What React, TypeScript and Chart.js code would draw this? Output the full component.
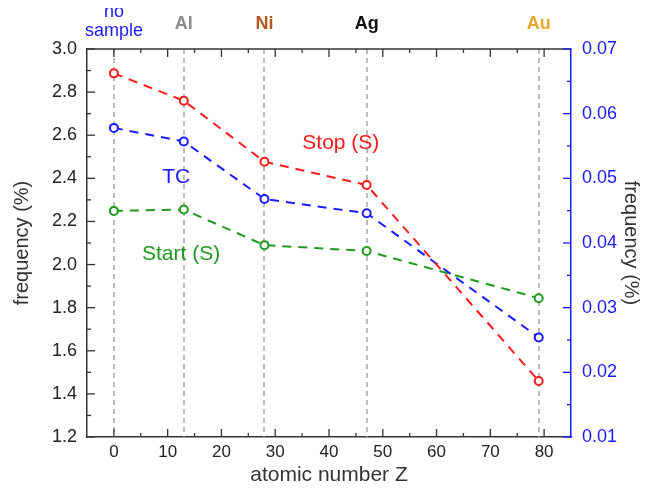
import React, { useEffect, useRef } from "react";
import { Chart, registerables } from "chart.js";
Chart.register(...registerables);

const atomicNumbers = [0, 13, 28, 47, 79];
const sampleNames = ["no sample", "Al", "Ni", "Ag", "Au"];
const sampleColors = ["#1a1aff", "#8c8c8c", "#b55a1e", "#111111", "#e8a62a"];
const stopValues = [2.887, 2.76, 2.477, 2.369, 1.46];
const startValues = [2.249, 2.255, 2.09, 2.063, 1.844];
const tcValues = [0.0578, 0.0557, 0.0468, 0.0446, 0.0254];

const xMajorTicks = [0, 10, 20, 30, 40, 50, 60, 70, 80];
const xMinorTicks = [5, 15, 25, 35, 45, 55, 65, 75];
const leftMajorTicks = [1.2, 1.4, 1.6, 1.8, 2.0, 2.2, 2.4, 2.6, 2.8, 3.0];
const leftMinorTicks = [1.3, 1.5, 1.7, 1.9, 2.1, 2.3, 2.5, 2.7, 2.9];
const rightMajorTicks = [0.01, 0.02, 0.03, 0.04, 0.05, 0.06, 0.07];
const rightMinorTicks = [0.015, 0.025, 0.035, 0.045, 0.055, 0.065];

const seriesLabels = ["Stop (S)", "TC", "Start (S)"];
const seriesColors = ["#ff1a1a", "#1a1aff", "#1f9a1f"];
const labelX = [42.2, 11.6, 12.5];
const labelY = [2.562, 2.405, 2.049];

const FONT = "'Liberation Sans', Arial, sans-serif";
const AXIS_DARK = "#333333";
const BLUE = "#1a1aff";

const framePlugin = {
  id: "framePlugin",
  beforeDatasetsDraw(chart: any) {
    const { ctx, chartArea } = chart;
    const xs = chart.scales.x;
    ctx.save();
    ctx.strokeStyle = "#a0a0a0";
    ctx.lineWidth = 1.4;
    ctx.setLineDash([5, 4]);
    atomicNumbers.forEach((z) => {
      const px = Math.round(xs.getPixelForValue(z));
      ctx.beginPath();
      ctx.moveTo(px, chartArea.top);
      ctx.lineTo(px, chartArea.bottom);
      ctx.stroke();
    });
    ctx.restore();
  },
  afterDraw(chart: any) {
    const { ctx, chartArea } = chart;
    const xs = chart.scales.x;
    const yl = chart.scales.y;
    const yr = chart.scales.y1;
    ctx.save();
    ctx.setLineDash([]);
    ctx.lineWidth = 1.5;
    ctx.strokeStyle = AXIS_DARK;
    ctx.beginPath();
    ctx.moveTo(chartArea.left, chartArea.top);
    ctx.lineTo(chartArea.right, chartArea.top);
    ctx.stroke();
    const tick = (x1: number, y1: number, x2: number, y2: number) => {
      ctx.beginPath();
      ctx.moveTo(x1, y1);
      ctx.lineTo(x2, y2);
      ctx.stroke();
    };
    const major = 8;
    const minor = 4;
    ctx.lineWidth = 1.3;
    xMajorTicks.forEach((v) => {
      const px = xs.getPixelForValue(v);
      tick(px, chartArea.bottom, px, chartArea.bottom - major);
      tick(px, chartArea.top, px, chartArea.top + major);
    });
    xMinorTicks.forEach((v) => {
      const px = xs.getPixelForValue(v);
      tick(px, chartArea.bottom, px, chartArea.bottom - minor);
      tick(px, chartArea.top, px, chartArea.top + minor);
    });
    leftMajorTicks.forEach((v) => {
      const py = yl.getPixelForValue(v);
      tick(chartArea.left, py, chartArea.left + major, py);
    });
    leftMinorTicks.forEach((v) => {
      const py = yl.getPixelForValue(v);
      tick(chartArea.left, py, chartArea.left + minor, py);
    });
    ctx.strokeStyle = BLUE;
    rightMajorTicks.forEach((v) => {
      const py = yr.getPixelForValue(v);
      tick(chartArea.right, py, chartArea.right - major, py);
    });
    rightMinorTicks.forEach((v) => {
      const py = yr.getPixelForValue(v);
      tick(chartArea.right, py, chartArea.right - minor, py);
    });
    ctx.font = `21px ${FONT}`;
    ctx.textAlign = "center";
    ctx.textBaseline = "middle";
    seriesLabels.forEach((t, i) => {
      ctx.fillStyle = seriesColors[i];
      ctx.fillText(t, xs.getPixelForValue(labelX[i]), yl.getPixelForValue(labelY[i]));
    });
    ctx.textBaseline = "alphabetic";
    sampleNames.forEach((name, i) => {
      const px = xs.getPixelForValue(atomicNumbers[i]);
      ctx.fillStyle = sampleColors[i];
      if (name.includes(" ")) {
        const parts = name.split(" ");
        ctx.font = `18px ${FONT}`;
        ctx.fillText(parts[0], px, chartArea.top - 32);
        ctx.fillText(parts[1], px, chartArea.top - 13);
      } else {
        ctx.font = `bold 18px ${FONT}`;
        ctx.fillText(name, px, chartArea.top - 20);
      }
    });
    ctx.restore();
  },
};

export default function App() {
  const ref = useRef<HTMLCanvasElement | null>(null);
  useEffect(() => {
    if (!ref.current) return;
    const mk = (vals: number[]) => atomicNumbers.map((x, i) => ({ x, y: vals[i] }));
    const ds = (label: string, vals: number[], color: string, axis: string) => ({
      label,
      data: mk(vals),
      yAxisID: axis,
      borderColor: color,
      backgroundColor: "#ffffff",
      pointBackgroundColor: "#ffffff",
      pointBorderColor: color,
      pointBorderWidth: 2,
      pointRadius: 4,
      borderWidth: 2,
      borderDash: [9, 7],
      fill: false,
      tension: 0,
    });
    const chart = new Chart(ref.current, {
      type: "line",
      data: {
        datasets: [
          ds("Stop (S)", stopValues, seriesColors[0], "y"),
          ds("TC", tcValues, seriesColors[1], "y1"),
          ds("Start (S)", startValues, seriesColors[2], "y"),
        ],
      },
      options: {
        animation: false,
        responsive: false,
        maintainAspectRatio: false,
        layout: { padding: { top: 41, left: 0, right: 0, bottom: 0 } },
        plugins: { legend: { display: false }, tooltip: { enabled: false } },
        scales: {
          x: {
            type: "linear",
            min: -5,
            max: 85,
            afterBuildTicks: (s: any) => {
              s.ticks = xMajorTicks.map((v) => ({ value: v }));
            },
            afterFit: (s: any) => {
              s.height = 52;
            },
            grid: { display: false, drawTicks: false },
            border: { display: true, color: AXIS_DARK, width: 1.5 },
            ticks: { color: "#222", font: { family: FONT, size: 17 }, padding: 5, maxRotation: 0 },
            title: {
              display: true,
              text: "atomic number Z",
              color: AXIS_DARK,
              font: { family: FONT, size: 21 },
              padding: { top: 0, bottom: 1 },
            },
          },
          y: {
            type: "linear",
            position: "left",
            min: 1.2,
            max: 3.0,
            afterBuildTicks: (s: any) => {
              s.ticks = leftMajorTicks.map((v) => ({ value: v }));
            },
            afterFit: (s: any) => {
              s.width = 79;
            },
            grid: { display: false, drawTicks: false },
            border: { display: true, color: AXIS_DARK, width: 1.5 },
            ticks: {
              color: "#222",
              font: { family: FONT, size: 18 },
              padding: 10,
              callback: (v: any) => Number(v).toFixed(1),
            },
            title: {
              display: true,
              text: "frequency (%)",
              color: AXIS_DARK,
              font: { family: FONT, size: 20 },
              padding: { top: 2, bottom: 0 },
            },
          },
          y1: {
            type: "linear",
            position: "right",
            min: 0.01,
            max: 0.07,
            afterBuildTicks: (s: any) => {
              s.ticks = rightMajorTicks.map((v) => ({ value: v }));
            },
            afterFit: (s: any) => {
              s.width = 72;
            },
            grid: { display: false, drawTicks: false },
            border: { display: true, color: BLUE, width: 1.5 },
            ticks: {
              color: BLUE,
              font: { family: FONT, size: 18 },
              padding: 11,
              callback: (v: any) => Number(v).toFixed(2),
            },
            title: {
              display: true,
              text: "frequency (%)",
              color: AXIS_DARK,
              font: { family: FONT, size: 20 },
              padding: { top: 0, bottom: 0 },
            },
          },
        },
      },
      plugins: [framePlugin],
    } as any);
    return () => chart.destroy();
  }, []);
  return (
    <div style={{ width: 635, height: 481 }}>
      <canvas ref={ref} width={635} height={481} style={{ width: 635, height: 481 }} />
    </div>
  );
}
